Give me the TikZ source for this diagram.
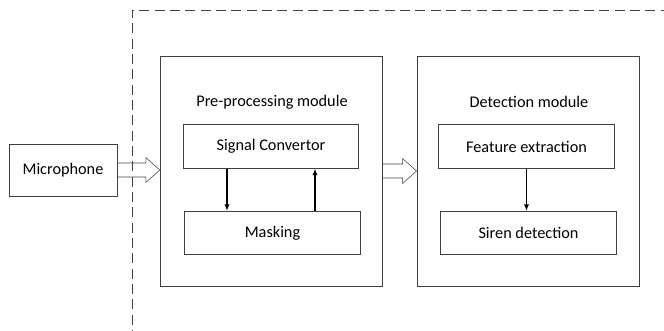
\documentclass[tikz,border=0pt]{standalone}
\usepackage{fontspec}
\setmainfont{Carlito}
\usepackage{tikz}
\usetikzlibrary{arrows.meta,calc}

\newcommand{\fatarrow}[2]{%
  \draw[black!75,line join=miter]
    ($(#1.east)+(0,7)$) -- ($(#1.east -| #2.west)+(-14,7)$)
    -- ($(#1.east -| #2.west)+(-14,12.5)$) -- (#1.east -| #2.west)
    -- ($(#1.east -| #2.west)+(-14,-12.5)$) -- ($(#1.east -| #2.west)+(-14,-7)$)
    -- ($(#1.east)+(0,-7)$);}

\begin{document}
\begin{tikzpicture}[x=0.75pt,y=-0.75pt,font=\fontsize{12.2}{14}\selectfont,
    box/.style={draw=black!75,semithick,inner sep=0pt,align=center},
    flow/.style={-{Latex[length=5pt,width=4pt]},line width=1.1pt}]
  \useasboundingbox (0,0) rectangle (664,331);
  \draw[black!75,dash pattern=on 7.5pt off 4pt] (132,340) -- (132,10) -- (670,10);
  \node[box,minimum width=81pt,minimum height=39pt] (mic) at (63,170) {Microphone};
  \node[box,minimum width=167pt,minimum height=172.5pt] (pre) at (271.5,171) {};
  \node[box,minimum width=166.5pt,minimum height=172.5pt] (det) at (528,171) {};
  \node (pretitle) at (272,102) {Pre-processing module};
  \node (dettitle) at (529,102) {Detection module};
  \foreach \name/\x/\y/\lab in {sig/271/146.5/Signal Convertor,mask/272.5/233/Masking,
    feat/526.5/146.5/Feature extraction,siren/528.5/233/Siren detection}{
      \node[box,minimum width=131.5pt,minimum height=32.5pt] (\name) at (\x,\y) {\lab};
  }
  \draw[flow] ([xshift=-33pt]sig.south) -- ([xshift=-33pt]sig.south |- mask.north);
  \draw[flow] ([xshift=33pt]sig.south |- mask.north) -- ([xshift=33pt]sig.south);
  \draw[flow] (feat.south) -- (feat.south |- siren.north);
  \fatarrow{mic}{pre}
  \fatarrow{pre}{det}
\end{tikzpicture}
\end{document}
